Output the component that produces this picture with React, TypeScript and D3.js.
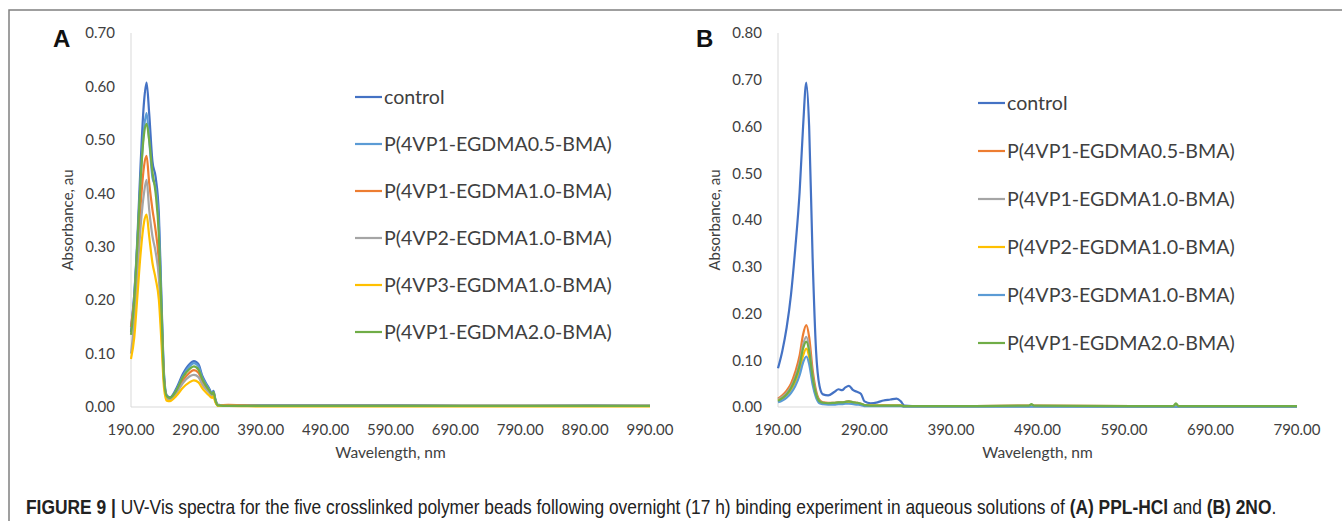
import React, { useRef, useLayoutEffect, useState } from 'react';
import * as d3 from 'd3';

const width = 1342;
const height = 521;

// panel A: PPL-HCl
const wlA = [190, 195, 200, 205, 210, 214, 218, 223, 228, 233, 237, 241, 245, 250, 260, 270, 280, 287, 294, 300, 305, 310, 315, 317, 320, 324, 340, 400, 500, 600, 700, 800, 900, 990];
const ctrlA = [0.14, 0.21, 0.32, 0.46, 0.57, 0.607, 0.55, 0.46, 0.43, 0.36, 0.20, 0.06, 0.022, 0.018, 0.035, 0.062, 0.08, 0.086, 0.08, 0.058, 0.046, 0.036, 0.026, 0.03, 0.015, 0.004, 0.003, 0.003, 0.003, 0.003, 0.002, 0.002, 0.002, 0.002];
const vp1e05A = [0.15, 0.21, 0.31, 0.43, 0.52, 0.55, 0.50, 0.43, 0.41, 0.34, 0.19, 0.055, 0.02, 0.017, 0.032, 0.058, 0.076, 0.082, 0.076, 0.055, 0.044, 0.034, 0.025, 0.029, 0.014, 0.004, 0.003, 0.003, 0.003, 0.003, 0.002, 0.002, 0.003, 0.002];
const vp1e10A = [0.15, 0.20, 0.28, 0.38, 0.45, 0.47, 0.42, 0.37, 0.33, 0.27, 0.16, 0.05, 0.018, 0.015, 0.028, 0.05, 0.064, 0.069, 0.064, 0.048, 0.038, 0.03, 0.022, 0.026, 0.012, 0.003, 0.004, 0.002, 0.002, 0.002, 0.002, 0.002, 0.002, 0.002];
const vp2e10A = [0.10, 0.16, 0.25, 0.34, 0.40, 0.425, 0.37, 0.32, 0.29, 0.24, 0.14, 0.045, 0.016, 0.014, 0.026, 0.045, 0.057, 0.06, 0.056, 0.042, 0.034, 0.027, 0.02, 0.024, 0.011, 0.003, 0.002, 0.002, 0.002, 0.002, 0.002, 0.002, 0.002, 0.002];
const vp3e10A = [0.09, 0.13, 0.21, 0.29, 0.345, 0.36, 0.32, 0.27, 0.24, 0.20, 0.12, 0.035, 0.012, 0.011, 0.021, 0.036, 0.046, 0.05, 0.046, 0.035, 0.028, 0.022, 0.017, 0.02, 0.009, 0.002, 0.002, 0.001, 0.001, 0.001, 0.001, 0.001, 0.001, 0.001];
const vp1e20A = [0.135, 0.20, 0.31, 0.43, 0.51, 0.53, 0.50, 0.44, 0.40, 0.32, 0.18, 0.05, 0.02, 0.017, 0.031, 0.056, 0.071, 0.076, 0.07, 0.052, 0.041, 0.032, 0.024, 0.028, 0.013, 0.003, 0.002, 0.002, 0.002, 0.002, 0.002, 0.002, 0.002, 0.002];

// panel B: 2NO
const wlB = [190, 195, 200, 205, 210, 215, 219, 222.7, 226, 230, 234, 238, 242, 248, 255, 260, 264, 268, 272, 277, 282, 286, 290, 297, 305, 312, 320, 327, 332, 336, 345, 400, 480, 483, 486, 600, 647, 650, 653, 790];
const ctrlB = [0.083, 0.12, 0.17, 0.24, 0.34, 0.46, 0.60, 0.694, 0.60, 0.32, 0.12, 0.045, 0.027, 0.025, 0.032, 0.038, 0.036, 0.042, 0.045, 0.036, 0.032, 0.028, 0.012, 0.008, 0.01, 0.014, 0.016, 0.018, 0.012, 0.003, 0.002, 0.002, 0.002, 0.002, 0.002, 0.001, 0.001, 0.001, 0.001, 0.001];
const vp1e05B = [0.018, 0.025, 0.035, 0.05, 0.075, 0.11, 0.155, 0.175, 0.15, 0.08, 0.035, 0.015, 0.01, 0.009, 0.009, 0.01, 0.01, 0.011, 0.012, 0.01, 0.009, 0.007, 0.004, 0.003, 0.003, 0.004, 0.004, 0.004, 0.003, 0.002, 0.002, 0.002, 0.003, 0.004, 0.003, 0.002, 0.002, 0.003, 0.002, 0.002];
const vp1e10B = [0.016, 0.022, 0.03, 0.043, 0.064, 0.095, 0.133, 0.15, 0.128, 0.068, 0.03, 0.013, 0.009, 0.008, 0.008, 0.009, 0.009, 0.01, 0.011, 0.009, 0.008, 0.006, 0.004, 0.003, 0.003, 0.003, 0.004, 0.004, 0.003, 0.002, 0.002, 0.002, 0.002, 0.003, 0.002, 0.002, 0.002, 0.002, 0.002, 0.002];
const vp2e10B = [0.014, 0.019, 0.026, 0.037, 0.054, 0.08, 0.11, 0.125, 0.107, 0.057, 0.025, 0.011, 0.008, 0.007, 0.007, 0.008, 0.008, 0.009, 0.01, 0.008, 0.007, 0.005, 0.003, 0.003, 0.003, 0.003, 0.003, 0.003, 0.003, 0.002, 0.002, 0.002, 0.002, 0.002, 0.002, 0.002, 0.002, 0.002, 0.002, 0.002];
const vp3e10B = [0.01, 0.014, 0.02, 0.03, 0.045, 0.068, 0.095, 0.108, 0.092, 0.048, 0.02, 0.008, 0.006, 0.005, 0.005, 0.006, 0.006, 0.007, 0.007, 0.006, 0.005, 0.004, 0.002, 0.002, 0.002, 0.002, 0.002, 0.002, 0.002, 0.001, 0.001, 0.001, 0.001, 0.001, 0.001, 0.001, 0.001, 0.001, 0.001, 0.001];
const vp1e20B = [0.013, 0.019, 0.027, 0.04, 0.06, 0.089, 0.125, 0.14, 0.12, 0.064, 0.028, 0.012, 0.009, 0.008, 0.009, 0.01, 0.01, 0.011, 0.012, 0.01, 0.009, 0.007, 0.004, 0.003, 0.003, 0.003, 0.003, 0.003, 0.003, 0.002, 0.002, 0.002, 0.003, 0.006, 0.003, 0.002, 0.002, 0.008, 0.002, 0.002];

const xTicksA = [190, 290, 390, 490, 590, 690, 790, 890, 990];
const yTicksA = [0, 0.1, 0.2, 0.3, 0.4, 0.5, 0.6, 0.7];
const xTicksB = [190, 290, 390, 490, 590, 690, 790];
const yTicksB = [0, 0.1, 0.2, 0.3, 0.4, 0.5, 0.6, 0.7, 0.8];

const namesA = ['control', 'P(4VP1-EGDMA0.5-BMA)', 'P(4VP1-EGDMA1.0-BMA)', 'P(4VP2-EGDMA1.0-BMA)', 'P(4VP3-EGDMA1.0-BMA)', 'P(4VP1-EGDMA2.0-BMA)'];
const namesB = ['control', 'P(4VP1-EGDMA0.5-BMA)', 'P(4VP1-EGDMA1.0-BMA)', 'P(4VP2-EGDMA1.0-BMA)', 'P(4VP3-EGDMA1.0-BMA)', 'P(4VP1-EGDMA2.0-BMA)'];
const colorsA = ['#4472C4', '#5B9BD5', '#ED7D31', '#A5A5A5', '#FFC000', '#70AD47'];
const colorsB = ['#4472C4', '#ED7D31', '#A5A5A5', '#FFC000', '#5B9BD5', '#70AD47'];

const valuesA = [ctrlA, vp1e05A, vp1e10A, vp2e10A, vp3e10A, vp1e20A];
const valuesB = [ctrlB, vp1e05B, vp1e10B, vp2e10B, vp3e10B, vp1e20B];

const font = 'Lato, "Open Sans", sans-serif';

const Panel = ({ letter, letterX, x0, x1, xDomain, yMax, wl, values, names, colors, xTicks, yTicks, legX, legY, legStep, yTitleX }) => {
  const top = 33;
  const bottom = 407;
  const x = d3.scaleLinear().domain(xDomain).range([x0, x1]);
  const y = d3.scaleLinear().domain([0, yMax]).range([bottom, top]);
  const fmt = d3.format('.2f');

  const line = d3.line<number>()
    .x((d, i) => x(wl[i]))
    .y(d => y(d))
    .curve(d3.curveMonotoneX);

  return (
    <g>
      <text x={letterX} y={47} fontFamily="Arial, 'Liberation Sans', sans-serif" fontWeight="bold" fontSize={24} fill="#111">{letter}</text>
      <line x1={x0} x2={x0} y1={top} y2={bottom} stroke="#D9D9D9" />
      <line x1={x0} x2={x1} y1={bottom} y2={bottom} stroke="#D9D9D9" />
      {yTicks.map(t => (
        <text key={t} x={x0 - 16} y={y(t)} dy="0.35em" textAnchor="end" fontFamily={font} fontSize={15} fill="#404040">{fmt(t)}</text>
      ))}
      {xTicks.map(t => (
        <text key={t} x={x(t)} y={435} textAnchor="middle" fontFamily={font} fontSize={15} fill="#404040">{fmt(t)}</text>
      ))}
      <text x={(x0 + x1) / 2} y={458} textAnchor="middle" fontFamily={font} fontSize={15.5} fill="#404040">Wavelength, nm</text>
      <text transform={`translate(${yTitleX},220) rotate(-90)`} textAnchor="middle" fontFamily={font} fontSize={15} fill="#404040">Absorbance, au</text>
      {values.map((v, i) => (
        <path key={names[i]} d={line(v)} fill="none" stroke={colors[i]} strokeWidth={2.2} strokeLinejoin="round" />
      ))}
      {names.map((n, i) => (
        <g key={n} transform={`translate(${legX},${legY + i * legStep})`}>
          <line x1={0} x2={27} y1={0} y2={0} stroke={colors[i]} strokeWidth={2.2} />
          <text x={29} y={0} dy="0.35em" fontFamily={font} fontSize={19.6} fill="#404040">{n}</text>
        </g>
      ))}
    </g>
  );
};

// caption is squeezed horizontally to the reference's condensed width
const Caption = () => {
  const ref = useRef<SVGTextElement>(null);
  const [sx, setSx] = useState(1);
  useLayoutEffect(() => {
    if (ref.current) {
      const w = ref.current.getBBox().width;
      if (w > 0) setSx(1251 / w);
    }
  }, []);
  return (
    <g transform={`translate(26,514) scale(${sx},1)`}>
      <text ref={ref} x={0} y={0} fontFamily="Arial, 'Liberation Sans', sans-serif" fontSize={21} fill="#222">
        <tspan fontWeight="bold">FIGURE 9 | </tspan>
        <tspan>UV-Vis spectra for the five crosslinked polymer beads following overnight (17 h) binding experiment in aqueous solutions of </tspan>
        <tspan fontWeight="bold">(A) PPL-HCl</tspan>
        <tspan> and </tspan>
        <tspan fontWeight="bold">(B) 2NO</tspan>
        <tspan>.</tspan>
      </text>
    </g>
  );
};

export default function App() {
  return (
    <svg width={width} height={height} style={{ position: 'absolute', left: 0, top: 0, background: '#fff' }}>
      <rect x={0} y={0} width={width} height={height} fill="#fff" />
      <path d={`M9,${height} V10 H${width}`} fill="none" stroke="#808080" strokeWidth={1.5} />
      <Panel letter="A" letterX={53} x0={131} x1={650} xDomain={[190, 990]} yMax={0.7} wl={wlA} values={valuesA} names={namesA} colors={colorsA} xTicks={xTicksA} yTicks={yTicksA} legX={355} legY={97} legStep={47} yTitleX={73} />
      <Panel letter="B" letterX={696} x0={778} x1={1297} xDomain={[190, 790]} yMax={0.8} wl={wlB} values={valuesB} names={namesB} colors={colorsB} xTicks={xTicksB} yTicks={yTicksB} legX={978} legY={103} legStep={48} yTitleX={720} />
      <Caption />
    </svg>
  );
}
